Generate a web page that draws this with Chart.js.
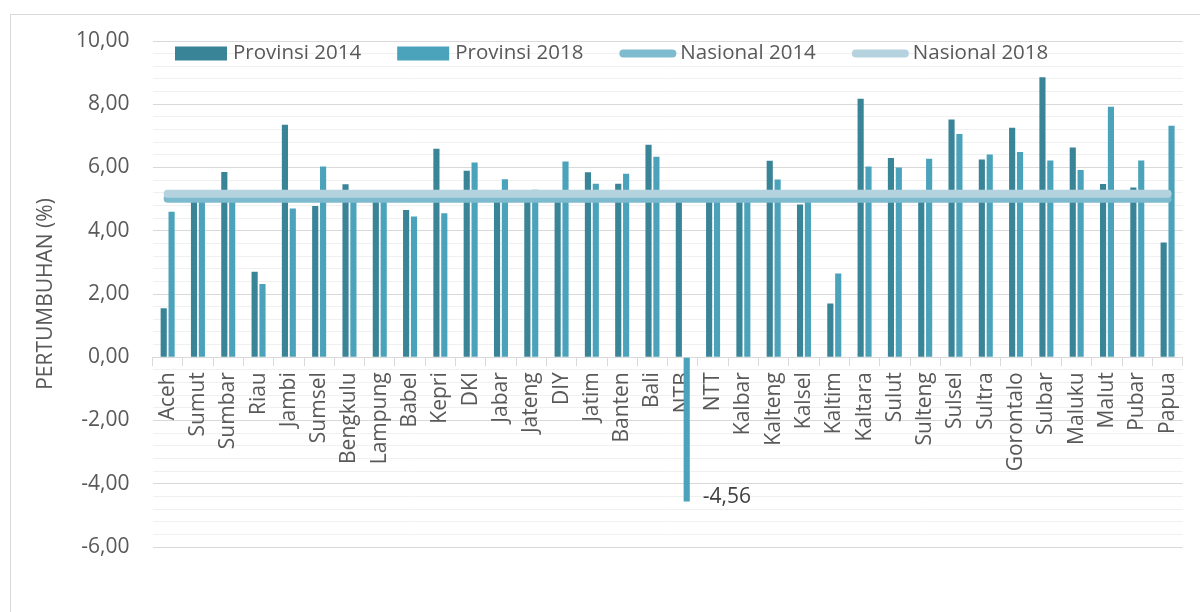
<!DOCTYPE html>
<html>
<head>
<meta charset="utf-8">
<script src="https://cdn.jsdelivr.net/npm/chart.js@4.4.1/dist/chart.umd.min.js"></script>
<style>
  html, body { margin: 0; padding: 0; background: #fff; overflow: hidden; }
  #frame { position: absolute; left: 10px; top: 14px; width: 1300px; height: 700px; border: 1px solid #d9d9d9; }
  #chart { position: absolute; left: 0; top: 0; }
</style>
</head>
<body>
<div id="frame"></div>
<canvas id="chart" width="1200" height="612"></canvas>
<script>
// categories
var provinsi = ['Aceh', 'Sumut', 'Sumbar', 'Riau', 'Jambi', 'Sumsel', 'Bengkulu', 'Lampung', 'Babel', 'Kepri',
    'DKI', 'Jabar', 'Jateng', 'DIY', 'Jatim', 'Banten', 'Bali', 'NTB', 'NTT', 'Kalbar',
    'Kalteng', 'Kalsel', 'Kaltim', 'Kaltara', 'Sulut', 'Sulteng', 'Sulsel', 'Sultra', 'Gorontalo', 'Sulbar',
    'Maluku', 'Malut', 'Pubar', 'Papua'];

// growth per province (%)
var provinsi2014 = [1.55, 5.23, 5.86, 2.70, 7.35, 4.78, 5.47, 5.08, 4.66, 6.59,
    5.90, 5.09, 5.27, 5.21, 5.85, 5.49, 6.72, 5.17, 5.05, 5.03,
    6.21, 4.83, 1.70, 8.17, 6.30, 5.07, 7.52, 6.25, 7.26, 8.85,
    6.63, 5.48, 5.37, 3.63];
var provinsi2018 = [4.60, 5.18, 5.14, 2.32, 4.70, 6.03, 4.99, 5.23, 4.45, 4.55,
    6.16, 5.63, 5.30, 6.19, 5.49, 5.80, 6.34, -4.56, 5.13, 5.07,
    5.62, 5.08, 2.65, 6.03, 6.00, 6.28, 7.06, 6.41, 6.49, 6.22,
    5.92, 7.92, 6.22, 7.32];

// national growth (%)
var nasional2014 = 5.01;
var nasional2018 = 5.17;

// labelled y ticks
var yTicks = [-6, -4, -2, 0, 2, 4, 6, 8, 10];

var teks = '#595959';
var ukuran = 21;

function angka(v) {
    return v.toFixed(2).replace('.', ',');
}

function isLabelTick(v) {
    return yTicks.some(function (t) { return Math.abs(t - v) < 1e-6; });
}

// line from first to last category
function garis(nilai) {
    return [{x: provinsi[0], y: nilai}, {x: provinsi[provinsi.length - 1], y: nilai}];
}

Chart.defaults.font.family = "'Open Sans', sans-serif";
Chart.defaults.font.size = ukuran;
Chart.defaults.color = teks;

//legend inside the plot
var legendInside = {
    id: 'legendInside',
    afterDatasetsDraw: function (chart) {
        var ctx = chart.ctx;
        var x = chart.chartArea.left + 22.5;
        var y = chart.chartArea.top + 12.5;
        ctx.save();
        ctx.font = "20.5px 'Open Sans', sans-serif";
        ctx.textBaseline = 'middle';
        ctx.textAlign = 'left';
        chart.data.datasets.forEach(function (ds) {
            if (ds.type === 'line') {
                ctx.strokeStyle = ds.borderColor;
                ctx.lineWidth = 8;
                ctx.lineCap = 'round';
                ctx.beginPath();
                ctx.moveTo(x + 4, y);
                ctx.lineTo(x + 53, y);
                ctx.stroke();
                x += 61;
            } else {
                ctx.fillStyle = ds.backgroundColor;
                ctx.fillRect(x, y - 7, 52, 14);
                x += 58;
            }
            ctx.fillStyle = teks;
            ctx.fillText(ds.label, x, y);
            x += ctx.measureText(ds.label).width + 36;
        });
        ctx.restore();
    }
};

//value label for the negative bar
var labelNegatif = {
    id: 'labelNegatif',
    afterDatasetsDraw: function (chart) {
        var ctx = chart.ctx;
        var meta = chart.getDatasetMeta(1);
        ctx.save();
        ctx.font = ukuran + "px 'Open Sans', sans-serif";
        ctx.fillStyle = '#404040';
        ctx.textBaseline = 'middle';
        ctx.textAlign = 'left';
        meta.data.forEach(function (bar, i) {
            var v = provinsi2018[i];
            if (v >= 0) return;
            ctx.fillText(angka(v), bar.x + bar.width / 2 + 13, bar.y - 4.5);
        });
        ctx.restore();
    }
};

new Chart(document.getElementById('chart'), {
    type: 'bar',
    data: {
        labels: provinsi,
        datasets: [{
            label: 'Provinsi 2014',
            data: provinsi2014,
            backgroundColor: '#3a8497',
            order: 2
        }, {
            label: 'Provinsi 2018',
            data: provinsi2018,
            backgroundColor: '#4aa3ba',
            order: 3
        }, {
            type: 'line',
            label: 'Nasional 2014',
            data: garis(nasional2014),
            borderColor: '#7fbbcf',
            borderWidth: 8,
            borderCapStyle: 'round',
            pointRadius: 0,
            fill: false,
            order: 1
        }, {
            type: 'line',
            label: 'Nasional 2018',
            data: garis(nasional2018),
            borderColor: '#b4d3de',
            borderWidth: 8,
            borderCapStyle: 'round',
            pointRadius: 0,
            fill: false,
            order: 0
        }]
    },
    options: {
        responsive: false,
        animation: false,
        categoryPercentage: 0.52,
        barPercentage: 0.78,
        layout: {
            padding: {left: 0, top: 41, right: 14, bottom: 65}
        },
        plugins: {
            legend: {display: false},
            tooltip: {enabled: false}
        },
        scales: {
            x: {
                type: 'category',
                position: {y: 0},
                grid: {
                    drawOnChartArea: false,
                    drawTicks: true,
                    tickLength: 8,
                    color: '#d9d9d9'
                },
                border: {display: true, color: '#d9d9d9', width: 1},
                ticks: {
                    minRotation: 90,
                    maxRotation: 90,
                    autoSkip: false,
                    padding: 7,
                    color: teks
                }
            },
            y: {
                min: -6,
                max: 10,
                afterFit: function (scale) { scale.width = 152.5; },
                border: {display: false},
                grid: {
                    drawTicks: false,
                    color: function (c) {
                        return isLabelTick(c.tick.value) ? '#d9d9d9' : '#f0f0f0';
                    }
                },
                ticks: {
                    stepSize: 0.4,
                    autoSkip: false,
                    padding: 23,
                    color: teks,
                    callback: function (v) {
                        return isLabelTick(v) ? angka(Math.round(v)) : '';
                    }
                },
                title: {
                    display: true,
                    text: 'PERTUMBUHAN (%)',
                    color: teks,
                    font: {size: ukuran},
                    padding: {top: 33, bottom: 0}
                }
            }
        }
    },
    plugins: [legendInside, labelNegatif]
});
</script>
</body>
</html>
